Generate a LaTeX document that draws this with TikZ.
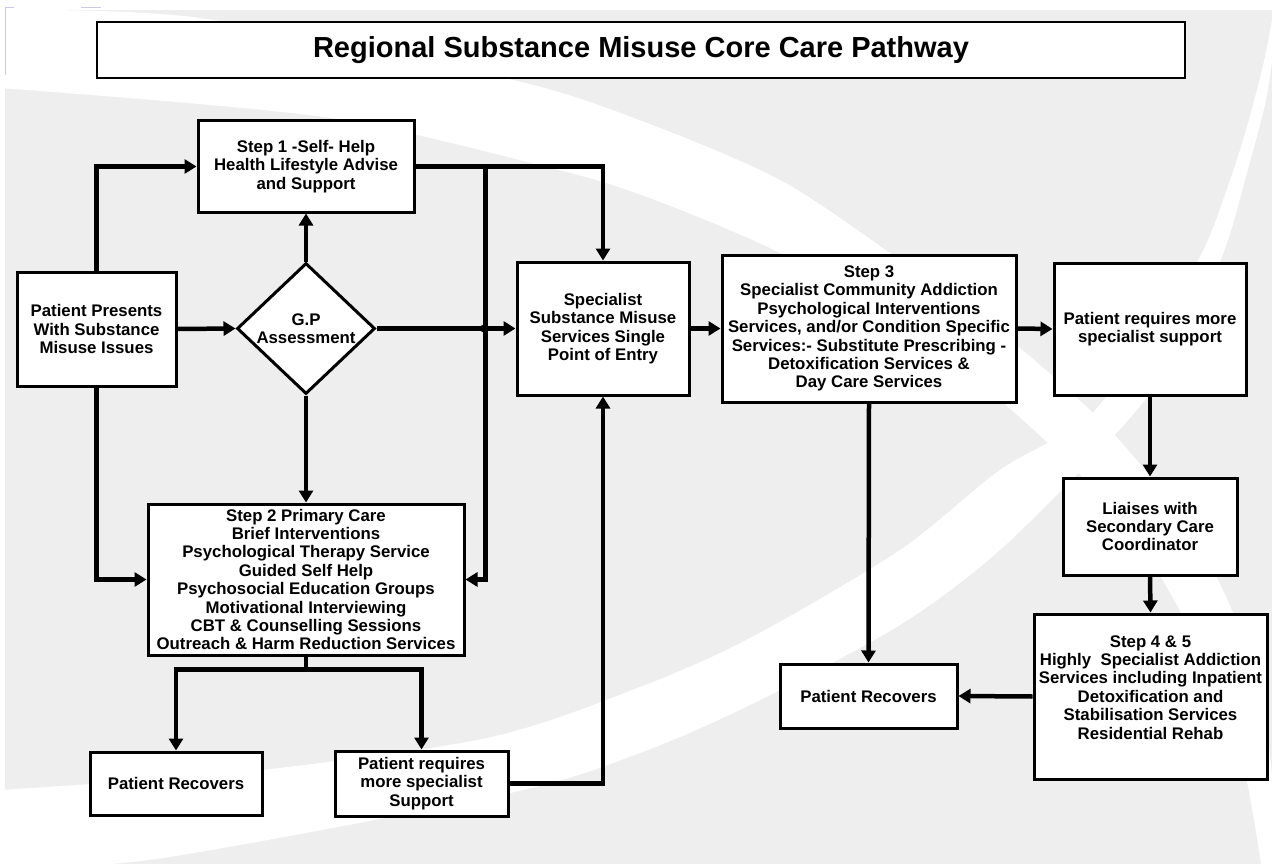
\documentclass[tikz,border=0pt]{standalone}
\usepackage{fontspec}
\setmainfont{Liberation Sans}
\usetikzlibrary{arrows.meta,shapes.geometric}
\definecolor{bggray}{RGB}{238,238,238}
\definecolor{lav}{RGB}{204,200,236}
\newcommand{\mybody}{\bfseries\fontsize{16.8}{18.4}\selectfont}
\begin{document}
\begin{tikzpicture}[x=1pt,y=-1pt,
  box/.style={draw, line width=3pt, fill=white, inner sep=0pt, align=center, font=\mybody},
  arr/.style={line width=4.5pt, -{Triangle[length=12pt,width=14pt]}},
  ln/.style={line width=4.5pt}]
\useasboundingbox (0,0) rectangle (1272,864);
% background
\fill[bggray] (5,10) rectangle (1272,864);
\fill[white] plot[smooth] coordinates {(0,10) (200,18) (513,80) (647,123) (780,180) (890,253) (1010,340) (1110,430) (1190,530) (1240,630) (1268,740) (1278,870)}
  -- plot[smooth] coordinates {(1262,870) (1240,750) (1200,650) (1150,560) (1085,480) (1000,400) (900,325) (780,253) (647,197) (547,167) (324,117) (0,88)} -- cycle;
\fill[white] plot[smooth] coordinates {(0,790) (243,772) (487,738) (640,687) (752,637) (900,550) (1000,470) (1085,420) (1140,350) (1180,290) (1208,240) (1240,150) (1262,70) (1272,20)}
  -- plot[smooth] coordinates {(1276,30) (1266,100) (1245,180) (1228,240) (1200,310) (1160,380) (1110,440) (1000,550) (900,625) (752,704) (640,753) (510,793) (163,858) (0,870)} -- cycle;
\draw[lav, line width=1pt] (5,75) -- (5,8) -- (14,8);
\draw[lav, line width=1pt] (81,8) -- (101,8);
% nodes
\node[box, line width=2.5pt, minimum width=1088pt, minimum height=56pt, font=\bfseries\fontsize{29}{34}\selectfont] (title) at (641,50) {Regional Substance Misuse Core Care Pathway};
\node[box, minimum width=216pt, minimum height=91pt] (s1) at (306,166.5) {Step 1 -Self- Help\\Health Lifestyle Advise\\and Support};
\node[box, minimum width=159pt, minimum height=114pt] (pp) at (96.5,329) {Patient Presents\\With Substance\\Misuse Issues};
\node[draw, diamond, line width=3pt, fill=white, minimum width=138pt, minimum height=131pt, inner sep=0pt] (gp) at (306,328.5) {};
\node[font=\mybody, align=center, inner sep=0pt] (gpt) at (gp.center) {G.P\\Assessment};
\node[box, minimum width=316pt, minimum height=151pt] (s2) at (306,579.5) {Step 2 Primary Care\\Brief Interventions\\Psychological Therapy Service\\Guided Self Help\\Psychosocial Education Groups\\Motivational Interviewing\\CBT \& Counselling Sessions\\Outreach \& Harm Reduction Services};
\node[box, minimum width=172pt, minimum height=133pt] (spec) at (603,328.5) {Specialist\\Substance Misuse\\Services Single\\Point of Entry};
\node[box, minimum width=294pt, minimum height=147pt] (s3) at (869,328.5) {Step 3\\Specialist Community Addiction\\Psychological Interventions\\Services, and/or Condition Specific\\Services:- Substitute Prescribing -\\Detoxification Services \&\\Day Care Services};
\node[box, minimum width=192pt, minimum height=132pt] (prm) at (1150,329) {Patient requires more\\specialist support};
\node[box, minimum width=174pt, minimum height=97pt] (li) at (1150,526.5) {Liaises with\\Secondary Care\\Coordinator};
\node[box, minimum width=233pt, minimum height=165pt] (s45) at (1150.5,696.5) {Step 4 \& 5\\Highly~~Specialist Addiction\\Services including Inpatient\\Detoxification and\\Stabilisation Services\\Residential Rehab\\\mbox{}};
\node[box, minimum width=177pt, minimum height=64pt] (prR) at (868.5,696) {Patient Recovers};
\node[box, minimum width=172pt, minimum height=63pt] (prL) at (176,783.5) {Patient Recovers};
\node[box, minimum width=173pt, minimum height=65pt] (prmL) at (421.5,783.5) {Patient requires\\more specialist\\Support};
% connectors
\draw[arr] (pp.north) |- (s1.west);
\draw[arr] (pp.east) -- (gp.west);
\draw[arr] (pp.south) |- (s2.west);
\draw[arr] (gp.north) -- (s1.south);
\draw[arr] (gp.south) -- (s2.north);
\draw[arr] (gp.east) -- (spec.west);
\draw[arr] (s1.east) -| (spec.north);
\draw[arr] (s1.east) -- ++(70,0) |- (s2.east);
\node[circle, fill, inner sep=0pt, minimum size=8pt] (jn) at (484,328.5) {};
\draw[arr] (s2.south) -- ++(0,13) -| (prL.north);
\draw[arr] (s2.south) -- ++(0,13) -| (prmL.north);
\draw[arr] (prmL.east) -| (spec.south);
\draw[arr] (spec.east) -- (s3.west);
\draw[arr] (s3.east) -- (prm.west);
\draw[arr] (prm.south) -- (li.north);
\draw[arr] (li.south) -- (s45.north);
\draw[arr] (s45.west) -- (prR.east);
\draw[arr] (s3.south) -- (prR.north);
\end{tikzpicture}
\end{document}
